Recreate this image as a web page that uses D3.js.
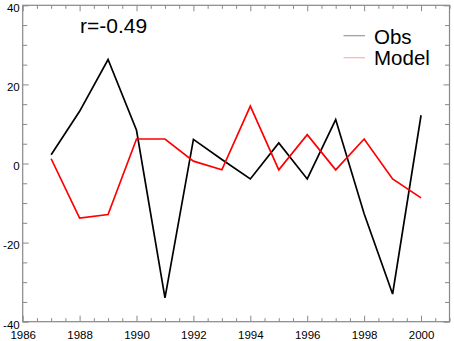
<!DOCTYPE html>
<html>
<head>
<meta charset="utf-8">
<script src="https://cdn.jsdelivr.net/npm/d3@7"></script>
<style>
  html, body { margin: 0; padding: 0; background: #fff; }
  svg { display: block; }
  text { font-family: "Liberation Sans", Arial, Helvetica, sans-serif; }
</style>
</head>
<body>
<svg id="chart" width="454" height="341"></svg>
<script>
const years = [1987, 1988, 1989, 1990, 1991, 1992, 1993, 1994, 1995, 1996, 1997, 1998, 1999, 2000];
const obs   = [2.2, 13.2, 26.3, 8.4, -34.0, 6.1, 1.0, -3.9, 5.2, -3.9, 11.1, -12.7, -33.0, 12.2];
const model = [1.2, -13.8, -12.9, 6.2, 6.2, 0.6, -1.6, 14.5, -1.6, 7.3, -1.6, 6.2, -3.9, -8.7];
const xTicks = [1986, 1988, 1990, 1992, 1994, 1996, 1998, 2000];
const yTicks = [-40, -20, 0, 20, 40];
const seriesNames = ["Obs", "Model"];
const seriesColors = ["#000000", "#ff0000"];
const legendColors = ["#999999", "#ffb0b0"];
const annotation = "r=-0.49";

const svg = d3.select("#chart");
const L = 22.7, R = 449.5, T = 5.3, B = 321.7;
const x = d3.scaleLinear().domain([1986, 2001]).range([L, R]);
const y = d3.scaleLinear().domain([-40, 40]).range([B, T]);
const axisColor = "#888";
const fmt = d => String(d);

const xMinor = d3.range(1986, 2001.01, 0.5).filter(v => !xTicks.includes(v));
const yMinor = d3.range(-40, 40.01, 5).filter(v => !yTicks.includes(v));

function styleAxis(g) {
  g.select(".domain").remove();
  g.selectAll(".tick line").attr("stroke", axisColor);
  g.selectAll(".tick text").attr("fill", "#000").attr("font-size", "11.5px")
    .attr("font-family", "Liberation Sans, Arial, sans-serif");
}

svg.append("g").attr("transform", `translate(0,${B})`)
  .call(d3.axisBottom(x).tickValues(xTicks).tickFormat(fmt).tickSizeInner(-6).tickSizeOuter(0).tickPadding(9))
  .call(styleAxis);
svg.append("g").attr("transform", `translate(0,${B})`)
  .call(d3.axisBottom(x).tickValues(xMinor).tickFormat("").tickSizeInner(-3.5).tickSizeOuter(0))
  .call(styleAxis);
svg.append("g").attr("transform", `translate(0,${T})`)
  .call(d3.axisTop(x).tickValues(xTicks).tickFormat("").tickSizeInner(-6).tickSizeOuter(0))
  .call(styleAxis);
svg.append("g").attr("transform", `translate(0,${T})`)
  .call(d3.axisTop(x).tickValues(xMinor).tickFormat("").tickSizeInner(-3.5).tickSizeOuter(0))
  .call(styleAxis);
const yl = svg.append("g").attr("transform", `translate(${L},0)`)
  .call(d3.axisLeft(y).tickValues(yTicks).tickFormat(fmt).tickSizeInner(-6).tickSizeOuter(0).tickPadding(3))
  .call(styleAxis);
yl.selectAll(".tick text").attr("dy", "0.55em");
svg.append("g").attr("transform", `translate(${L},0)`)
  .call(d3.axisLeft(y).tickValues(yMinor).tickFormat("").tickSizeInner(-4.5).tickSizeOuter(0))
  .call(styleAxis);
svg.append("g").attr("transform", `translate(${R},0)`)
  .call(d3.axisRight(y).tickValues(yTicks).tickFormat("").tickSizeInner(-6).tickSizeOuter(0))
  .call(styleAxis);
svg.append("g").attr("transform", `translate(${R},0)`)
  .call(d3.axisRight(y).tickValues(yMinor).tickFormat("").tickSizeInner(-4.5).tickSizeOuter(0))
  .call(styleAxis);

svg.append("rect").attr("x", L).attr("y", T).attr("width", R - L).attr("height", B - T)
  .attr("fill", "none").attr("stroke", axisColor).attr("stroke-width", 1.2);

const line = d3.line().x((d, i) => x(years[i])).y(d => y(d));
[obs, model].forEach((s, k) => {
  svg.append("path").datum(s).attr("d", line)
    .attr("fill", "none").attr("stroke", seriesColors[k]).attr("stroke-width", 1.7)
    .attr("stroke-linejoin", "miter");
});

svg.append("text").attr("x", 80).attr("y", 33).attr("font-size", "21px").attr("fill", "#000").text(annotation);

const legY = [35.7, 57.7];
const legBase = [44, 65];
seriesNames.forEach((n, k) => {
  svg.append("line").attr("x1", 343.5).attr("x2", 365).attr("y1", legY[k]).attr("y2", legY[k])
    .attr("stroke", legendColors[k]).attr("stroke-width", 1.2);
  svg.append("text").attr("x", 374).attr("y", legBase[k]).attr("font-size", "20.5px").attr("fill", "#000").text(n);
});
</script>
</body>
</html>
